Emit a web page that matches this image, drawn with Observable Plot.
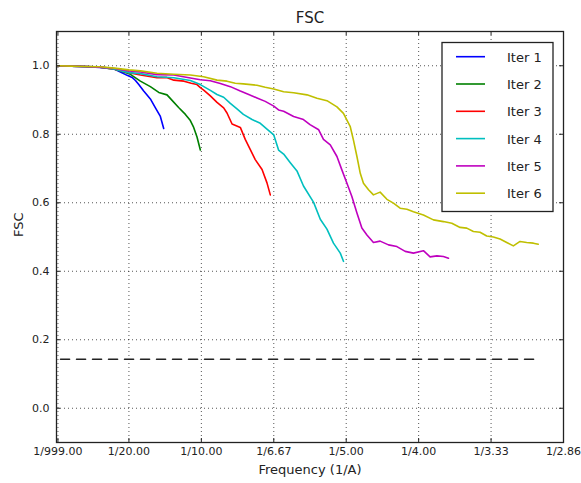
<!DOCTYPE html>
<html>
<head>
<meta charset="utf-8">
<script src="https://cdn.jsdelivr.net/npm/d3@7"></script>
<script src="https://cdn.jsdelivr.net/npm/@observablehq/plot@0.6"></script>
<style>
  body { margin: 0; background: #fff; }
  #chart { width: 581px; height: 483px; }
  #chart svg { display: block; }
</style>
</head>
<body>
<div id="chart"></div>
<script>
// FSC curves per refinement iteration (spatial frequency in 1/Å vs. correlation)
const seriesNames = ["Iter 1", "Iter 2", "Iter 3", "Iter 4", "Iter 5", "Iter 6"];
const seriesColors = ["#0000ff", "#008000", "#ff0000", "#00bfbf", "#bf00bf", "#bfbf00"];

const iter1Freq = [0.001, 0.010, 0.020, 0.030, 0.035, 0.0395, 0.0441, 0.0488, 0.0522, 0.0545, 0.0568, 0.0602, 0.0648, 0.0683, 0.0717, 0.0740];
const iter1Fsc  = [1.000, 0.999, 0.997, 0.995, 0.994, 0.991, 0.982, 0.972, 0.966, 0.957, 0.945, 0.926, 0.903, 0.877, 0.852, 0.817];

const iter2Freq = [0.001, 0.010, 0.020, 0.030, 0.040, 0.045, 0.051, 0.0579, 0.0648, 0.0706, 0.0763, 0.0798, 0.0843, 0.0890, 0.0924, 0.0947, 0.0970, 0.0993];
const iter2Fsc  = [1.000, 0.999, 0.998, 0.996, 0.990, 0.984, 0.975, 0.955, 0.939, 0.922, 0.915, 0.899, 0.878, 0.858, 0.840, 0.820, 0.792, 0.754];

const iter3Freq = [0.001, 0.010, 0.020, 0.030, 0.040, 0.050, 0.058, 0.0694, 0.076, 0.081, 0.088, 0.093, 0.097, 0.0993, 0.1016, 0.1062, 0.1108, 0.1154, 0.1177, 0.1212, 0.1269, 0.1303, 0.1338, 0.1372, 0.1419, 0.1453, 0.1476];
const iter3Fsc  = [1.000, 0.999, 0.998, 0.996, 0.990, 0.980, 0.973, 0.965, 0.966, 0.958, 0.955, 0.949, 0.945, 0.936, 0.929, 0.912, 0.893, 0.877, 0.862, 0.830, 0.820, 0.785, 0.755, 0.726, 0.697, 0.658, 0.623];

const iter4Freq = [0.001, 0.010, 0.020, 0.030, 0.040, 0.050, 0.058, 0.0694, 0.081, 0.0924, 0.0993, 0.1062, 0.1108, 0.1154, 0.1200, 0.1246, 0.1290, 0.1350, 0.1407, 0.1453, 0.1500, 0.1533, 0.1568, 0.1614, 0.1660, 0.1705, 0.1775, 0.1821, 0.1867, 0.1912, 0.1959, 0.1981];
const iter4Fsc  = [1.000, 0.999, 0.998, 0.996, 0.990, 0.980, 0.977, 0.968, 0.965, 0.957, 0.945, 0.928, 0.916, 0.908, 0.890, 0.874, 0.858, 0.843, 0.832, 0.815, 0.798, 0.754, 0.742, 0.717, 0.693, 0.649, 0.601, 0.552, 0.523, 0.482, 0.453, 0.429];

const iter5Freq = [0.001, 0.010, 0.020, 0.030, 0.040, 0.050, 0.058, 0.0694, 0.081, 0.0924, 0.0993, 0.1062, 0.1131, 0.1200, 0.1269, 0.1327, 0.1384, 0.1441, 0.1500, 0.1533, 0.1568, 0.1637, 0.1705, 0.1750, 0.1810, 0.1843, 0.1890, 0.1936, 0.1970, 0.2005, 0.2039, 0.2074, 0.2108, 0.2143, 0.2188, 0.2234, 0.2292, 0.2350, 0.2407, 0.2464, 0.2533, 0.2579, 0.2626, 0.2671, 0.2706];
const iter5Fsc  = [1.000, 0.999, 0.998, 0.996, 0.992, 0.985, 0.982, 0.974, 0.973, 0.964, 0.959, 0.956, 0.948, 0.939, 0.926, 0.916, 0.906, 0.896, 0.882, 0.871, 0.867, 0.852, 0.843, 0.828, 0.813, 0.785, 0.769, 0.735, 0.696, 0.657, 0.618, 0.570, 0.526, 0.506, 0.484, 0.488, 0.477, 0.472, 0.458, 0.453, 0.460, 0.442, 0.445, 0.443, 0.438];

const iter6Freq = [0.001, 0.010, 0.020, 0.030, 0.040, 0.050, 0.058, 0.0694, 0.081, 0.0924, 0.1016, 0.1108, 0.1177, 0.1234, 0.1290, 0.1384, 0.1441, 0.1500, 0.1568, 0.1637, 0.1729, 0.1798, 0.1867, 0.1936, 0.1981, 0.2028, 0.2050, 0.2074, 0.2097, 0.2119, 0.2154, 0.2188, 0.2234, 0.2281, 0.2326, 0.2372, 0.2419, 0.2464, 0.2533, 0.2602, 0.2671, 0.2729, 0.2786, 0.2832, 0.2878, 0.2924, 0.2970, 0.3016, 0.3062, 0.3108, 0.3154, 0.3200, 0.3246, 0.3292, 0.3326];
const iter6Fsc  = [1.000, 0.999, 0.998, 0.997, 0.993, 0.988, 0.985, 0.978, 0.975, 0.973, 0.968, 0.958, 0.955, 0.949, 0.947, 0.943, 0.937, 0.932, 0.924, 0.921, 0.915, 0.905, 0.898, 0.880, 0.861, 0.822, 0.783, 0.735, 0.686, 0.657, 0.638, 0.623, 0.631, 0.610, 0.599, 0.584, 0.581, 0.574, 0.564, 0.550, 0.545, 0.540, 0.528, 0.526, 0.516, 0.514, 0.503, 0.500, 0.494, 0.484, 0.474, 0.487, 0.484, 0.482, 0.479];

// 0.143 resolution criterion
const thresholdFreq = [0.0028, 0.333];
const thresholdFsc  = [0.143, 0.143];

const xTickValues = [0.001001, 0.05, 0.10, 0.15, 0.20, 0.25, 0.30, 0.35];
const xTickLabels = ["1/999.00", "1/20.00", "1/10.00", "1/6.67", "1/5.00", "1/4.00", "1/3.33", "1/2.86"];
const yTickValues = [0.0, 0.2, 0.4, 0.6, 0.8, 1.0];

// long-format table for the line mark
const curves = [
  [iter1Freq, iter1Fsc], [iter2Freq, iter2Fsc], [iter3Freq, iter3Fsc],
  [iter4Freq, iter4Fsc], [iter5Freq, iter5Fsc], [iter6Freq, iter6Fsc]
];
const rows = [];
curves.forEach(([freq, fsc], i) => {
  freq.forEach((f, j) => rows.push({series: seriesNames[i], freq: f, fsc: fsc[j]}));
});
const thresholdRows = thresholdFreq.map((f, j) => ({freq: f, fsc: thresholdFsc[j]}));

const W = 581, H = 483;
const mL = 56, mR = 18, mT = 31, mB = 41;
const frameW = W - mL - mR, frameH = H - mT - mB;
const tickLen = 4;
const font = "DejaVu Sans, Verdana, sans-serif";
const ink = "#222";

const gridStyle = {stroke: "#000", strokeOpacity: 0.75, strokeWidth: 0.9, strokeDasharray: "1,3"};

const chart = Plot.plot({
  width: W,
  height: H,
  marginLeft: mL,
  marginRight: mR,
  marginTop: mT,
  marginBottom: mB,
  style: {fontFamily: font, fontSize: "11px", color: ink, background: "#fff", overflow: "visible"},
  x: {domain: [0, 0.35]},
  y: {domain: [-0.1, 1.1]},
  color: {domain: seriesNames, range: seriesColors},
  marks: [
    Plot.gridX(xTickValues, gridStyle),
    Plot.gridY(yTickValues, gridStyle),
    Plot.line(thresholdRows, {x: "freq", y: "fsc", stroke: "#222", strokeWidth: 1.6, strokeDasharray: "9,7"}),
    Plot.line(rows, {x: "freq", y: "fsc", z: "series", stroke: "series", strokeWidth: 1.6}),
    // inward ticks on all four sides
    Plot.tickX(xTickValues, {x: d => d, insetTop: frameH - tickLen, stroke: ink}),
    Plot.tickX(xTickValues, {x: d => d, insetBottom: frameH - tickLen, stroke: ink}),
    Plot.tickY(yTickValues, {y: d => d, insetRight: frameW - tickLen, stroke: ink}),
    Plot.tickY(yTickValues, {y: d => d, insetLeft: frameW - tickLen, stroke: ink}),
    Plot.frame({stroke: ink, strokeWidth: 1.3}),
    Plot.axisX(xTickValues, {
      tickSize: 0, tickPadding: 5, fontSize: 11, fill: ink, label: null,
      tickFormat: d => xTickLabels[xTickValues.indexOf(d)]
    }),
    Plot.axisY(yTickValues, {
      tickSize: 0, tickPadding: 7, fontSize: 11, fill: ink, label: null,
      tickFormat: d => d.toFixed(1)
    }),
    Plot.text(["FSC"], {text: d => d, frameAnchor: "top", dy: -13, fontSize: 15, fill: ink, lineAnchor: "middle"}),
    Plot.text(["Frequency (1/A)"], {text: d => d, frameAnchor: "bottom", dy: 27, fontSize: 13, fill: ink, lineAnchor: "middle"}),
    Plot.text(["FSC"], {text: d => d, frameAnchor: "left", dx: -38, rotate: -90, fontSize: 13, fill: ink, lineAnchor: "middle"})
  ]
});

document.getElementById("chart").appendChild(chart);

// legend box in the upper-right corner of the plotting area
const svg = d3.select(chart);
const legend = svg.append("g")
  .attr("font-family", font)
  .attr("font-size", 13)
  .attr("text-anchor", "start");
legend.append("rect")
  .attr("x", 442).attr("y", 42.5).attr("width", 111).attr("height", 169)
  .attr("fill", "#fff").attr("stroke", ink).attr("stroke-width", 1.3);
seriesNames.forEach((name, i) => {
  const y = 56.7 + i * 27.3;
  legend.append("line")
    .attr("x1", 456).attr("x2", 485).attr("y1", y).attr("y2", y)
    .attr("stroke", seriesColors[i]).attr("stroke-width", 1.6);
  legend.append("text")
    .attr("x", 507).attr("y", y + 1.5)
    .attr("dominant-baseline", "middle")
    .attr("fill", ink)
    .text(name);
});
</script>
</body>
</html>
